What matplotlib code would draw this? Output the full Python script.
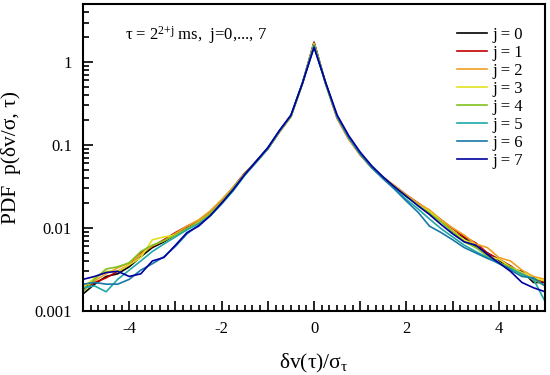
import numpy as np
import matplotlib
matplotlib.use("Agg")
import matplotlib.pyplot as plt
from matplotlib.ticker import MultipleLocator, LogLocator, NullFormatter

plt.rcParams['font.family'] = ['Liberation Serif', 'DejaVu Serif']
plt.rcParams['mathtext.fontset'] = 'custom'
plt.rcParams['mathtext.rm'] = 'Liberation Serif'
plt.rcParams['mathtext.it'] = 'Liberation Serif:italic'
plt.rcParams['mathtext.default'] = 'rm'

# bin centres of dv/sigma
x = np.arange(-5, 5.001, 0.25)

# PDF values, one list per time lag j (left half, then right half)
pdf_j0 = [0.0016, 0.0021, 0.0026, 0.0028, 0.0034, 0.0045, 0.0058, 0.0068, 0.0083, 0.0102,
          0.0118, 0.0150, 0.0208, 0.030, 0.045, 0.064, 0.092, 0.146, 0.225, 0.56, 1.74,
          0.56, 0.215, 0.120, 0.077, 0.054, 0.040, 0.031, 0.024, 0.0195, 0.0150,
          0.0125, 0.0090, 0.0076, 0.0059, 0.0050, 0.0041, 0.0032, 0.0030, 0.0022, 0.0022]
pdf_j1 = [0.0018, 0.0022, 0.0025, 0.0030, 0.0036, 0.0050, 0.0060, 0.0072, 0.0088, 0.0105,
          0.0122, 0.0155, 0.0212, 0.031, 0.046, 0.063, 0.090, 0.143, 0.22, 0.55, 1.71,
          0.55, 0.21, 0.118, 0.076, 0.053, 0.040, 0.032, 0.025, 0.0200, 0.0160,
          0.0125, 0.0098, 0.0078, 0.0066, 0.0050, 0.0042, 0.0035, 0.0028, 0.0025, 0.0022]
pdf_j2 = [0.0020, 0.0023, 0.0028, 0.0033, 0.0038, 0.0048, 0.0061, 0.0070, 0.0086, 0.0105,
          0.0125, 0.0160, 0.022, 0.031, 0.044, 0.062, 0.090, 0.143, 0.22, 0.55, 1.69,
          0.54, 0.21, 0.118, 0.076, 0.053, 0.041, 0.032, 0.025, 0.0198, 0.0165,
          0.0125, 0.0100, 0.0082, 0.0064, 0.0058, 0.0044, 0.0040, 0.0031, 0.0026, 0.0024]
pdf_j3 = [0.0019, 0.0025, 0.0030, 0.0030, 0.0036, 0.0044, 0.0072, 0.0078, 0.0082, 0.0098,
          0.0118, 0.0150, 0.0205, 0.030, 0.045, 0.063, 0.091, 0.145, 0.22, 0.55, 1.66,
          0.55, 0.22, 0.120, 0.077, 0.054, 0.040, 0.031, 0.024, 0.0190, 0.0158,
          0.0120, 0.0092, 0.0072, 0.0062, 0.0046, 0.0042, 0.0034, 0.0029, 0.0025, 0.0023]
pdf_j4 = [0.0017, 0.0024, 0.0032, 0.0034, 0.0038, 0.0052, 0.0062, 0.0070, 0.0082, 0.0098,
          0.0115, 0.0148, 0.0205, 0.030, 0.045, 0.063, 0.092, 0.147, 0.225, 0.56, 1.63,
          0.56, 0.22, 0.123, 0.078, 0.055, 0.040, 0.031, 0.024, 0.0188, 0.0150,
          0.0118, 0.0090, 0.0068, 0.0058, 0.0046, 0.0038, 0.0034, 0.0027, 0.0024, 0.0020]
pdf_j5 = [0.0019, 0.0020, 0.0017, 0.0024, 0.0031, 0.0040, 0.0052, 0.0064, 0.0078, 0.0095,
          0.0112, 0.0140, 0.0195, 0.028, 0.043, 0.062, 0.090, 0.146, 0.225, 0.56, 1.58,
          0.55, 0.22, 0.125, 0.078, 0.053, 0.039, 0.030, 0.022, 0.0170, 0.0128,
          0.0098, 0.0078, 0.0062, 0.0052, 0.0044, 0.0037, 0.0032, 0.0028, 0.0024, 0.0013]
pdf_j6 = [0.0021, 0.0022, 0.0021, 0.0021, 0.0024, 0.0031, 0.0037, 0.0045, 0.0060, 0.0085,
          0.0108, 0.0140, 0.0195, 0.029, 0.044, 0.063, 0.091, 0.147, 0.225, 0.56, 1.55,
          0.56, 0.22, 0.123, 0.078, 0.054, 0.039, 0.029, 0.021, 0.0155, 0.0105,
          0.0088, 0.0072, 0.0058, 0.0050, 0.0043, 0.0038, 0.0031, 0.0026, 0.0025, 0.0020]
pdf_j7 = [0.0024, 0.0026, 0.0029, 0.0030, 0.0026, 0.0028, 0.0040, 0.0044, 0.0062, 0.0088,
          0.0105, 0.0140, 0.020, 0.029, 0.044, 0.064, 0.093, 0.150, 0.23, 0.56, 1.50,
          0.57, 0.23, 0.130, 0.082, 0.056, 0.041, 0.031, 0.024, 0.0185, 0.0145,
          0.0110, 0.0085, 0.0068, 0.0062, 0.0048, 0.0038, 0.0030, 0.0022, 0.0019, 0.0017]

series = [pdf_j0, pdf_j1, pdf_j2, pdf_j3, pdf_j4, pdf_j5, pdf_j6, pdf_j7]
labels = ["j = %d" % j for j in range(8)]
colors = ['#000000', '#c00000', '#f0a020', '#e0e020', '#80c020', '#20a8a8', '#1878a8', '#0000a0']

fig = plt.figure(figsize=(5.5, 3.75), dpi=100)
ax = fig.add_axes([0.151, 0.171, 0.840, 0.818])

for y, c, lab in zip(series, colors, labels):
    ax.plot(x, y, color=c, lw=1.2, label=lab)

ax.set_yscale('log')
ax.set_xlim(-5, 5)
ax.set_ylim(0.001, 5)

ax.set_xticks(range(-5, 6))
ax.set_xticklabels(['' if k % 2 else str(k) for k in range(-5, 6)])
ax.xaxis.set_minor_locator(MultipleLocator(1 / 6))
ax.set_yticks([0.001, 0.01, 0.1, 1])
ax.set_yticklabels(['0.001', '0.01', '0.1', '1'])
ax.yaxis.set_minor_locator(LogLocator(base=10, subs=np.arange(2, 10)))
ax.yaxis.set_minor_formatter(NullFormatter())

ax.tick_params(which='both', direction='in', top=False, right=False, width=1.2, labelsize=12)
ax.tick_params(which='major', length=7.5)
ax.tick_params(which='minor', length=4)
ax.tick_params(axis='x', pad=7)
ax.tick_params(axis='y', pad=8)
for s in ax.spines.values():
    s.set_linewidth(1.5)

ax.set_xlabel(r'δv(τ)/σ$_{τ}$', fontsize=15.5, labelpad=11)
ax.set_ylabel('PDF  p(δv/σ, τ)', fontsize=15.5, labelpad=10)

ax.text(0.091, 0.883, r'τ = 2$^{2{+}j}$ ms,  j=0,..., 7', transform=ax.transAxes,
        fontsize=12, va='baseline', ha='left')

ax.legend(loc='upper left', bbox_to_anchor=(0.81, 0.927), frameon=False, fontsize=12,
          handlelength=1.8, handletextpad=0.3, labelspacing=0.12, borderpad=0, borderaxespad=0)

fig.savefig('out.png', dpi=100)
